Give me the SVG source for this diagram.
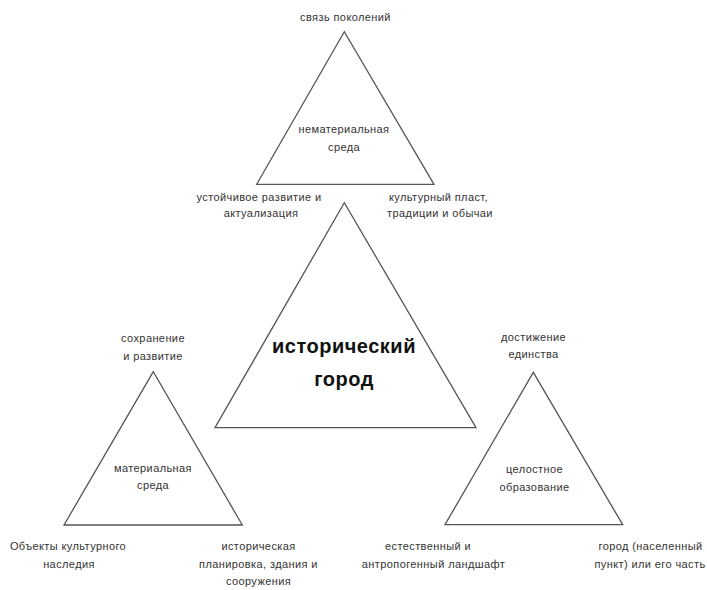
<svg xmlns="http://www.w3.org/2000/svg" width="707" height="590" viewBox="0 0 707 590">
<style>
.tri{fill:none;stroke:#555;stroke-width:1.3;stroke-linejoin:miter}
.t{font-family:"Liberation Sans",Arial,sans-serif;font-size:11px;letter-spacing:0.4px;fill:#333;text-anchor:middle}
.m{font-family:"Liberation Sans",Arial,sans-serif;font-size:20px;letter-spacing:0.5px;font-weight:bold;fill:#111;text-anchor:middle}
</style>
<rect width="707" height="590" fill="#fff"/>
<g id="top">
<polygon class="tri" points="344.3,31.7 256.7,184.3 434,184.3"/>
<text class="t" x="345.5" y="21">связь поколений</text>
<text class="t" x="344" y="133">нематериальная</text>
<text class="t" x="344" y="151">среда</text>
<text class="t" x="259" y="200.5">устойчивое развитие и</text>
<text class="t" x="261" y="216.5">актуализация</text>
<text class="t" x="438.5" y="200.5">культурный пласт,</text>
<text class="t" x="440" y="216.5">традиции и обычаи</text>
</g>
<g id="center">
<polygon class="tri" points="344.3,202.7 215,427.7 476,427.7"/>
<text class="m" x="344" y="353">исторический</text>
<text class="m" x="344" y="386">город</text>
</g>
<g id="left">
<polygon class="tri" points="153.3,371.7 64,525 242.3,525"/>
<text class="t" x="153" y="342">сохранение</text>
<text class="t" x="153" y="360">и развитие</text>
<text class="t" x="153" y="472">материальная</text>
<text class="t" x="153" y="489">среда</text>
<text class="t" x="68" y="549.5">Объекты культурного</text>
<text class="t" x="69" y="567.5">наследия</text>
<text class="t" x="258.5" y="549.5">историческая</text>
<text class="t" x="258.5" y="567.5">планировка, здания и</text>
<text class="t" x="258.5" y="585">сооружения</text>
</g>
<g id="right">
<polygon class="tri" points="533.3,372.3 445,524.7 622.7,524.7"/>
<text class="t" x="533.5" y="340.5">достижение</text>
<text class="t" x="533.5" y="358">единства</text>
<text class="t" x="534.5" y="473">целостное</text>
<text class="t" x="534.5" y="490.5">образование</text>
<text class="t" x="428" y="549.5">естественный и</text>
<text class="t" x="433.5" y="567.5">антропогенный ландшафт</text>
<text class="t" x="650.5" y="549.5">город (населенный</text>
<text class="t" x="650" y="567.5">пункт) или его часть</text>
</g>
<g id="connectors"></g>
</svg>
